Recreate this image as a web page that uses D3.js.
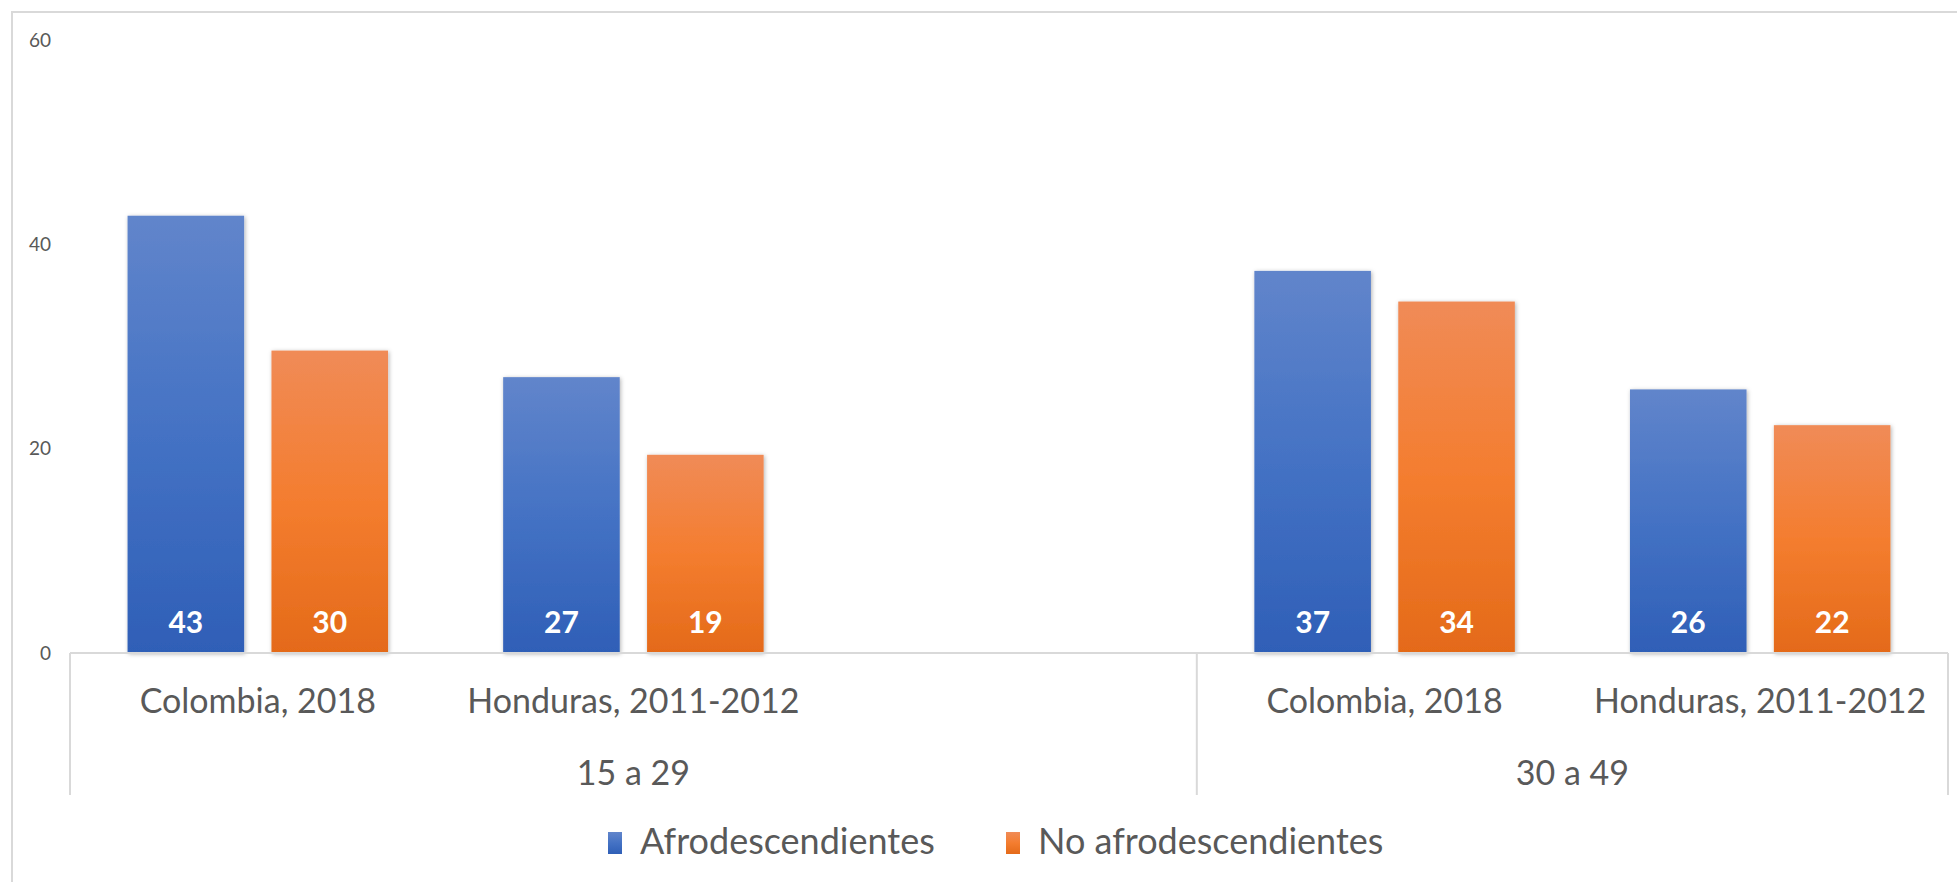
<!DOCTYPE html>
<html>
<head>
<meta charset="utf-8">
<script src="https://cdn.jsdelivr.net/npm/d3@7"></script>
<style>
    html, body { margin: 0; padding: 0; background: #ffffff; }
    text { font-family: Lato, "Open Sans", sans-serif; }
</style>
</head>
<body>
<div id="chart"></div>
<script>
// Data
var ageGroups = ["15 a 29", "30 a 49"];
var slotGroups = ["15 a 29", "15 a 29", "15 a 29", "30 a 49", "30 a 49"];
var slotCountries = ["Colombia, 2018", "Honduras, 2011-2012", "", "Colombia, 2018", "Honduras, 2011-2012"];
var afro = [42.8, 27.0, null, 37.4, 25.8];
var noAfro = [29.6, 19.4, null, 34.4, 22.3];
var seriesNames = ["Afrodescendientes", "No afrodescendientes"];
var yTicks = [0, 20, 40, 60];

function init() {
    var w = 1957;
    var h = 882;

    var svg = d3.select("#chart")
                .append("svg")
                .attr("width", w)
                .attr("height", h);

    var defs = svg.append("defs");

    // Vertical gradients like the Excel fill
    var gradColors = [
        ["#6185cb", "#4472c4", "#2f5fb7"],
        ["#f08b57", "#f47d2f", "#e46a19"]
    ];
    gradColors.forEach(function(c, i) {
        var g = defs.append("linearGradient")
                    .attr("id", "grad" + i)
                    .attr("x1", 0).attr("y1", 0)
                    .attr("x2", 0).attr("y2", 1);
        g.append("stop").attr("offset", "0%").attr("stop-color", c[0]);
        g.append("stop").attr("offset", "50%").attr("stop-color", c[1]);
        g.append("stop").attr("offset", "100%").attr("stop-color", c[2]);
    });

    // Soft shadow around the bars
    defs.append("filter")
        .attr("id", "shadow")
        .attr("x", "-10%").attr("y", "-10%")
        .attr("width", "130%").attr("height", "120%")
        .append("feDropShadow")
        .attr("dx", 1).attr("dy", 1)
        .attr("stdDeviation", 2)
        .attr("flood-color", "#000")
        .attr("flood-opacity", 0.3);

    // Outer chart border (runs off the right and bottom of the picture)
    svg.append("rect")
       .attr("x", 12).attr("y", 12)
       .attr("width", 2100).attr("height", 1000)
       .attr("fill", "none")
       .attr("stroke", "#d9d9d9")
       .attr("stroke-width", 2);

    var left = 70, right = 1948, top = 40, bottom = 653;

    var xScale = d3.scaleBand()
                   .domain(d3.range(slotCountries.length))
                   .range([left, right]);

    var xInner = d3.scaleBand()
                   .domain(seriesNames)
                   .range([0, xScale.bandwidth()])
                   .paddingInner(0.19)
                   .paddingOuter(0.4);

    var yScale = d3.scaleLinear()
                   .domain([0, 60])
                   .range([bottom, top]);

    // Value axis labels (no line, no ticks)
    svg.append("g")
       .selectAll("text")
       .data(yTicks)
       .enter()
       .append("text")
       .attr("x", 51)
       .attr("y", function(d) { return yScale(d); })
       .attr("dy", "0.35em")
       .attr("text-anchor", "end")
       .attr("font-size", 19)
       .attr("fill", "#595959")
       .text(function(d) { return d; });

    // Bars
    var values = [afro, noAfro];
    var series = svg.selectAll("g.series")
                    .data(seriesNames)
                    .enter()
                    .append("g")
                    .attr("class", "series");

    series.each(function(name, si) {
        var g = d3.select(this);
        var pts = values[si].map(function(v, i) { return { i: i, v: v }; })
                            .filter(function(d) { return d.v !== null; });

        g.selectAll("rect")
         .data(pts)
         .enter()
         .append("rect")
         .attr("x", function(d) { return xScale(d.i) + xInner(name); })
         .attr("y", function(d) { return yScale(d.v); })
         .attr("width", xInner.bandwidth())
         .attr("height", function(d) { return yScale(0) - yScale(d.v); })
         .attr("fill", "url(#grad" + si + ")")
         .attr("filter", "url(#shadow)");

        g.selectAll("text")
         .data(pts)
         .enter()
         .append("text")
         .attr("x", function(d) { return xScale(d.i) + xInner(name) + xInner.bandwidth() / 2; })
         .attr("y", yScale(0) - 20)
         .attr("text-anchor", "middle")
         .attr("font-size", 30)
         .attr("font-weight", "bold")
         .attr("fill", "#ffffff")
         .text(function(d) { return d3.format(".0f")(d.v); });
    });

    // Category axis: baseline and group dividers
    var axisColor = "#d9d9d9";
    var axisBottom = 795;
    svg.append("line")
       .attr("x1", left).attr("x2", right)
       .attr("y1", bottom).attr("y2", bottom)
       .attr("stroke", axisColor).attr("stroke-width", 2);

    var groupEdges = [0];
    slotGroups.forEach(function(g, i) {
        if (i > 0 && g !== slotGroups[i - 1]) groupEdges.push(i);
    });
    var edgeX = groupEdges.map(function(i) { return xScale(i); }).concat([right]);

    svg.append("g")
       .selectAll("line")
       .data(edgeX)
       .enter()
       .append("line")
       .attr("x1", function(d) { return d; })
       .attr("x2", function(d) { return d; })
       .attr("y1", bottom)
       .attr("y2", axisBottom)
       .attr("stroke", axisColor)
       .attr("stroke-width", 2);

    // Country labels
    svg.append("g")
       .selectAll("text")
       .data(slotCountries)
       .enter()
       .append("text")
       .attr("x", function(d, i) { return xScale(i) + xScale.bandwidth() / 2; })
       .attr("y", 713)
       .attr("text-anchor", "middle")
       .attr("font-size", 34)
       .attr("fill", "#595959")
       .text(function(d) { return d; });

    // Age group labels, centred on their span
    svg.append("g")
       .selectAll("text")
       .data(ageGroups)
       .enter()
       .append("text")
       .attr("x", function(d, i) { return (edgeX[i] + edgeX[i + 1]) / 2; })
       .attr("y", 785)
       .attr("text-anchor", "middle")
       .attr("font-size", 34)
       .attr("fill", "#595959")
       .text(function(d) { return d; });

    // Legend
    var legendX = [608, 1006];
    var legend = svg.selectAll("g.legend")
                    .data(seriesNames)
                    .enter()
                    .append("g")
                    .attr("class", "legend")
                    .attr("transform", function(d, i) {
                        return "translate(" + legendX[i] + ",832)";
                    });

    legend.append("rect")
          .attr("width", 14)
          .attr("height", 22)
          .attr("fill", function(d, i) { return "url(#grad" + i + ")"; });

    legend.append("text")
          .attr("x", 32)
          .attr("y", 22)
          .attr("font-size", 36)
          .attr("fill", "#595959")
          .text(function(d) { return d; });
}

window.onload = init;
</script>
</body>
</html>
